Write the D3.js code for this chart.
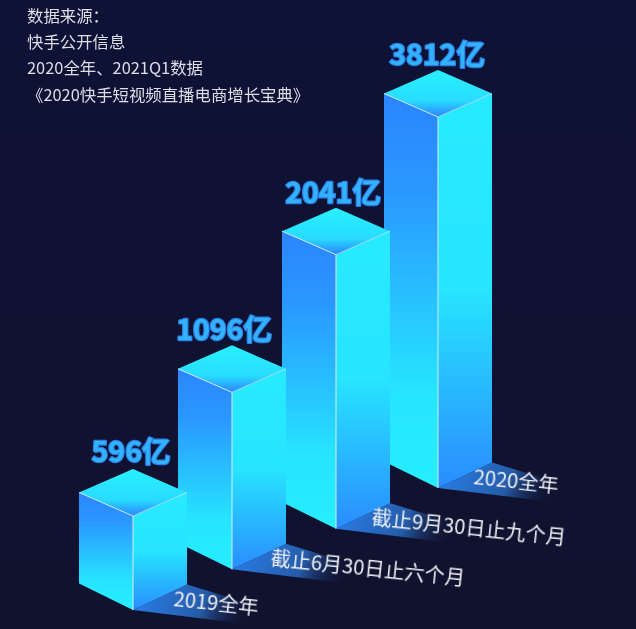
<!DOCTYPE html>
<html>
<head>
<meta charset="utf-8">
<script src="https://cdn.jsdelivr.net/npm/d3@7"></script>
<style>
  html, body { margin: 0; padding: 0; background: #0f1232; }
  svg { display: block; }
  text { font-family: "Noto Sans CJK SC", "Noto Sans", sans-serif; }
</style>
</head>
<body>
<div id="chart"></div>
<script>
// values
const categories = ["2019全年", "截止6月30日止六个月", "截止9月30日止九个月", "2020全年"];
const values = [596, 1096, 2041, 3812];
const valueLabels = ["596亿", "1096亿", "2041亿", "3812亿"];
const sourceLines = ["数据来源：", "快手公开信息", "2020全年、2021Q1数据", "《2020快手短视频直播电商增长宝典》"];

const width = 636, height = 629;
const halfW = 54, halfD = 23.5; // half width and half depth of the iso box

// the bars in the picture are not proportional, so the height scale has one segment per bar
const h = d3.scaleLinear().domain(values).range([94, 177, 274, 371]);
const xCenter = d3.scaleOrdinal().domain(categories).range([133, 232, 336, 438]);
const yBase = d3.scalePoint().domain(categories).range([610, 488]);
// small hand offsets for the labels, they don't sit evenly on the boxes
const labelDx = d3.scaleOrdinal().domain(categories).range([-2, -8, -3, -1]);
const catDx = d3.scaleOrdinal().domain(categories).range([40, 38, 35, 35]);

const svg = d3.select("#chart").append("svg")
    .attr("width", width)
    .attr("height", height)
    .attr("viewBox", [0, 0, width, height]);

const defs = svg.append("defs");

function gradient(id, stops, x2 = 0, y2 = 1) {
  const g = defs.append("linearGradient").attr("id", id)
    .attr("x1", 0).attr("y1", 0).attr("x2", x2).attr("y2", y2);
  stops.forEach(([o, c, a]) => g.append("stop")
    .attr("offset", o).attr("stop-color", c).attr("stop-opacity", a === undefined ? 1 : a));
}
gradient("bg", [[0, "#0e1236"], [1, "#11122e"]]);
gradient("left", [[0, "#2b85ff"], [0.25, "#2a98ff"], [0.75, "#26e4ff"], [1, "#26eeff"]]);
gradient("right", [[0, "#27eaff"], [0.5, "#27e4ff"], [1, "#2a8cff"]]);
gradient("top", [[0, "#27f0ff"], [0.65, "#28dcff"], [1, "#2b84ff"]]);
gradient("shadow", [[0, "#2a80ee"], [0.6, "#255ca8"], [1, "#11122e", 0.05]], 1, 0.12);

// the reference is a soft video frame, so the text gets a light blur
defs.append("filter").attr("id", "soft")
  .append("feGaussianBlur").attr("stdDeviation", 0.3);

svg.append("rect").attr("width", width).attr("height", height).attr("fill", "url(#bg)");

const line = d3.line();
const data = categories.map((c, i) => ({c, v: values[i], label: valueLabels[i]}));

// back to front
const bars = svg.selectAll("g.bar")
  .data(data.slice().reverse())
  .join("g")
    .attr("class", "bar")
    .attr("transform", d => `translate(${xCenter(d.c)},${yBase(d.c)})`);

bars.append("path")
    .attr("fill", "url(#shadow)")
    .attr("d", () => line([[0, 0], [halfW, -halfD - 2], [128, -3], [114, 14]]) + "Z");

bars.append("path")
    .attr("fill", "url(#left)")
    .attr("d", d => line([[0, 0], [-halfW, -halfD - 3], [-halfW, -h(d.v) - halfD], [0, -h(d.v)]]) + "Z");

bars.append("path")
    .attr("fill", "url(#right)")
    .attr("d", d => line([[0, 0], [halfW, -halfD - 2], [halfW, -h(d.v) - halfD], [0, -h(d.v)]]) + "Z");

bars.append("path")
    .attr("fill", "url(#top)")
    .attr("d", d => line([[0, -h(d.v)], [-halfW, -h(d.v) - halfD], [0, -h(d.v) - 2 * halfD], [halfW, -h(d.v) - halfD]]) + "Z");

// highlight edges
bars.append("path")
    .attr("fill", "none")
    .attr("stroke", "#cfeeff")
    .attr("stroke-width", 1)
    .attr("d", d => line([[-halfW, -h(d.v) - halfD], [0, -h(d.v)], [0, 0]]));

bars.append("path")
    .attr("fill", "none")
    .attr("stroke", "#cfeeff")
    .attr("stroke-opacity", 0.75)
    .attr("stroke-width", 1)
    .attr("d", d => line([[0, -h(d.v)], [halfW, -h(d.v) - halfD]]));

// value labels above each box
bars.append("text")
    .attr("x", d => labelDx(d.c))
    .attr("y", d => -h(d.v) - 2 * halfD - (d.v === 596 ? 7 : 5))
    .attr("text-anchor", "middle")
    .attr("font-size", 28.5)
    .attr("font-weight", 700)
    .attr("fill", "#33b2ff")
    .attr("stroke", "#2a7ee8")
    .attr("stroke-width", 2.4)
    .attr("stroke-linejoin", "round")
    .attr("paint-order", "stroke")
    .attr("filter", "url(#soft)")
    .text(d => d.label);

// category labels lying along the floor
bars.append("text")
    .attr("transform", d => `translate(${catDx(d.c)},-4) rotate(6)`)
    .attr("font-size", 20.2)
    .attr("fill", "#eef0f6")
    .attr("filter", "url(#soft)")
    .text(d => d.c);

svg.append("g")
    .attr("filter", "url(#soft)")
  .selectAll("text")
  .data(sourceLines)
  .join("text")
    .attr("x", 27)
    .attr("y", (d, i) => [22, 48, 74, 101][i])
    .attr("font-size", 16.4)
    .attr("fill", "#dcdee6")
    .text(d => d);
</script>
</body>
</html>
